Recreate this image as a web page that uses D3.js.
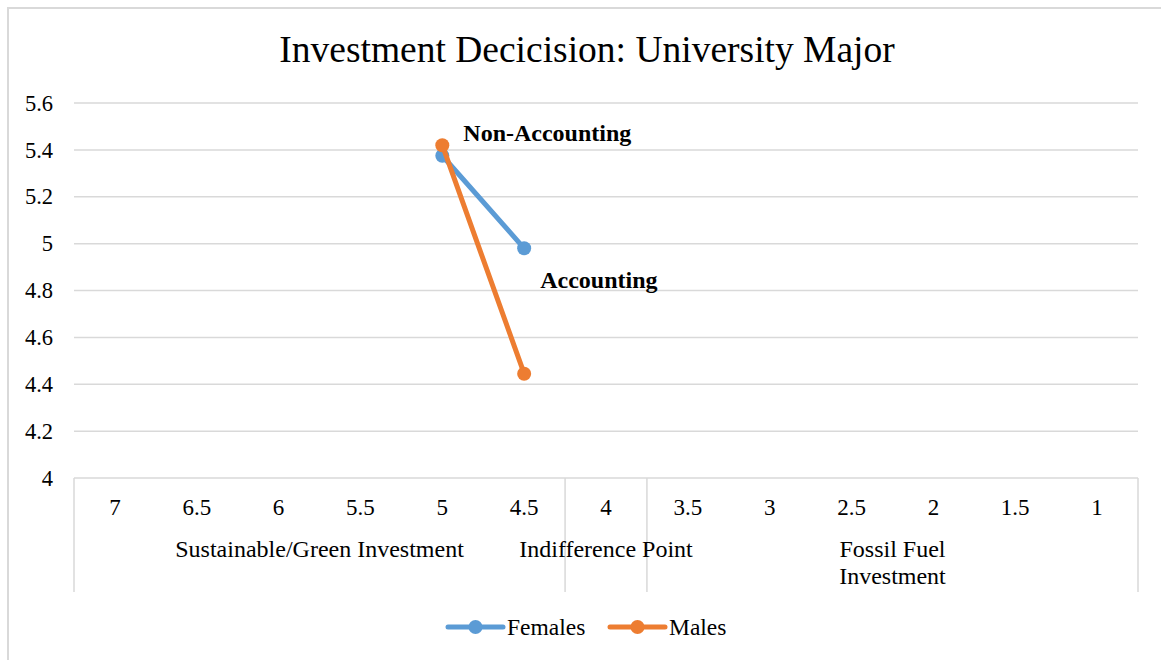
<!DOCTYPE html>
<html>
<head>
<meta charset="utf-8">
<script src="https://cdn.jsdelivr.net/npm/d3@7"></script>
<style>
  body { margin: 0; background: #fff; }
  text { font-family: "Liberation Serif", "Times New Roman", serif; fill: #000; }
</style>
</head>
<body>
<svg id="chart"></svg>
<script>
// Chart values
const categories = ['7', '6.5', '6', '5.5', '5', '4.5', '4', '3.5', '3', '2.5', '2', '1.5', '1'];
const groups = [
    { name: ['Sustainable/Green Investment'], start: 0, end: 5 },
    { name: ['Indifference Point'], start: 6, end: 6 },
    { name: ['Fossil Fuel', 'Investment'], start: 7, end: 12 }
];
const femalesValues = [null, null, null, null, 5.375, 4.98, null, null, null, null, null, null, null];
const malesValues = [null, null, null, null, 5.42, 4.445, null, null, null, null, null, null, null];
const yTicks = [4, 4.2, 4.4, 4.6, 4.8, 5, 5.2, 5.4, 5.6];

const series = [
    { name: 'Females', values: femalesValues, color: '#5B9BD5' },
    { name: 'Males', values: malesValues, color: '#ED7D31' }
];

const W = 1161, H = 660;
const margin = { top: 103, right: 23, bottom: 182, left: 74 };
const width = W - margin.left - margin.right;
const height = H - margin.top - margin.bottom;

const svg = d3.select('#chart')
    .attr('width', W)
    .attr('height', H);

// outer chart border
svg.append('rect')
    .attr('x', 8).attr('y', 8)
    .attr('width', W + 10).attr('height', H + 10)
    .attr('fill', 'none')
    .attr('stroke', '#d9d9d9')
    .attr('stroke-width', 2);

// title
svg.append('text')
    .attr('x', 587)
    .attr('y', 62)
    .attr('text-anchor', 'middle')
    .style('font-size', '37.5px')
    .text('Investment Decicision: University Major');

const g = svg.append('g')
    .attr('transform', `translate(${margin.left},${margin.top})`);

const xScale = d3.scaleBand()
    .domain(categories)
    .range([0, width]);

const yScale = d3.scaleLinear()
    .domain([4, 5.6])
    .range([height, 0]);

// gridlines
g.selectAll('line.grid')
    .data(yTicks.slice(1))
    .enter()
    .append('line')
    .attr('class', 'grid')
    .attr('x1', 0).attr('x2', width)
    .attr('y1', d => yScale(d)).attr('y2', d => yScale(d))
    .attr('stroke', '#d9d9d9')
    .attr('stroke-width', 1.5);

// y axis labels
const yAxis = d3.axisLeft(yScale)
    .tickValues(yTicks)
    .tickSize(0)
    .tickPadding(21)
    .tickFormat(d => d3.format('')(+d.toFixed(1)));

g.append('g')
    .call(yAxis)
    .call(s => s.select('.domain').remove())
    .selectAll('text')
    .style('font-family', '"Liberation Serif", serif')
    .style('font-size', '22.5px')
    .attr('fill', '#000');

// category axis box
const boxH = 114;
const axisG = g.append('g').attr('transform', `translate(0,${height})`);
axisG.append('line')
    .attr('x1', 0).attr('x2', width)
    .attr('y1', 0).attr('y2', 0)
    .attr('stroke', '#d9d9d9').attr('stroke-width', 1.5);

const boundaries = [0, ...groups.map(gr => xScale(categories[gr.end]) + xScale.bandwidth())];
axisG.selectAll('line.sep')
    .data(boundaries)
    .enter()
    .append('line')
    .attr('class', 'sep')
    .attr('x1', d => d).attr('x2', d => d)
    .attr('y1', 0).attr('y2', boxH)
    .attr('stroke', '#d9d9d9').attr('stroke-width', 1.5);

axisG.selectAll('text.cat')
    .data(categories)
    .enter()
    .append('text')
    .attr('class', 'cat')
    .attr('x', d => xScale(d) + xScale.bandwidth() / 2)
    .attr('y', 37)
    .attr('text-anchor', 'middle')
    .style('font-size', '23px')
    .text(d => d);

groups.forEach(gr => {
    const x0 = xScale(categories[gr.start]);
    const x1 = xScale(categories[gr.end]) + xScale.bandwidth();
    const t = axisG.append('text')
        .attr('x', (x0 + x1) / 2)
        .attr('y', 79)
        .attr('text-anchor', 'middle')
        .style('font-size', '24px');
    gr.name.forEach((line, i) => {
        t.append('tspan')
            .attr('x', (x0 + x1) / 2)
            .attr('dy', i === 0 ? 0 : 27)
            .text(line);
    });
});

// lines and markers
const line = d3.line()
    .defined(d => d.v !== null)
    .x(d => xScale(d.c) + xScale.bandwidth() / 2)
    .y(d => yScale(d.v));

series.forEach(s => {
    const pts = categories.map((c, i) => ({ c: c, v: s.values[i] }));
    g.append('path')
        .datum(pts)
        .attr('fill', 'none')
        .attr('stroke', s.color)
        .attr('stroke-width', 5)
        .attr('stroke-linecap', 'round')
        .attr('d', line);
    g.selectAll(null)
        .data(pts.filter(d => d.v !== null))
        .enter()
        .append('circle')
        .attr('cx', d => xScale(d.c) + xScale.bandwidth() / 2)
        .attr('cy', d => yScale(d.v))
        .attr('r', 7)
        .attr('fill', s.color);
});

// annotations
g.append('text')
    .attr('x', xScale('5') + xScale.bandwidth() / 2 + 21)
    .attr('y', yScale(5.44))
    .style('font-size', '24px')
    .style('font-weight', 'bold')
    .text('Non-Accounting');

g.append('text')
    .attr('x', xScale('4.5') + xScale.bandwidth() / 2 + 16)
    .attr('y', yScale(4.81))
    .style('font-size', '24px')
    .style('font-weight', 'bold')
    .text('Accounting');

// legend
const legend = svg.append('g').attr('transform', 'translate(448,627)');
const legendX = [0, 162];
series.forEach((s, i) => {
    const lg = legend.append('g').attr('transform', `translate(${legendX[i]},0)`);
    lg.append('line')
        .attr('x1', 0).attr('x2', 55)
        .attr('stroke', s.color).attr('stroke-width', 5)
        .attr('stroke-linecap', 'round');
    lg.append('circle').attr('cx', 27.5).attr('r', 7).attr('fill', s.color);
    lg.append('text')
        .attr('x', 59).attr('y', 8)
        .style('font-size', '23.5px')
        .text(s.name);
});
</script>
</body>
</html>
